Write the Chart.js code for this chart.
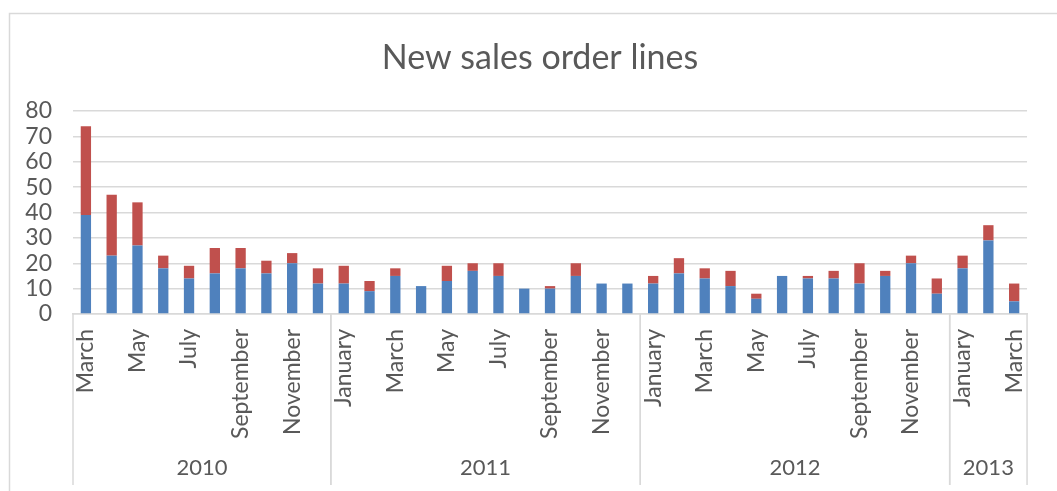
<!DOCTYPE html>
<html>
<head>
<meta charset="utf-8">
<script src="https://cdn.jsdelivr.net/npm/chart.js@4.4.1/dist/chart.umd.min.js"></script>
<style>
  html, body { margin: 0; padding: 0; background: #fff; overflow: hidden; }
  #wrap { position: relative; width: 1057px; height: 491px; }
</style>
</head>
<body>
<div id="wrap"><canvas id="chart" width="1057" height="491"></canvas></div>
<script>
// ── Data ─────────────────────────────────────────────────────────────────────
const months = [
  'March','April','May','June','July','August','September','October','November','December',
  'January','February','March','April','May','June','July','August','September','October','November','December',
  'January','February','March','April','May','June','July','August','September','October','November','December',
  'January','February','March'
];
const years     = ['2010', '2011', '2012', '2013'];
const yearSpans = [10, 12, 12, 3];

// blue (bottom) and red (top) parts of each bar
const blueVals = [39,23,27,18,14,16,18,16,20,12, 12,9,15,11,13,17,15,10,10,15,12,12, 12,16,14,11,6,15,14,14,12,15,20,8, 18,29,5];
const redVals  = [35,24,17,5,5,10,8,5,4,6, 7,4,3,0,6,3,5,0,1,5,0,0, 3,6,4,6,2,0,1,3,8,2,3,6, 5,6,7];

const yTicks = [0, 10, 20, 30, 40, 50, 60, 70, 80];

const FONT  = 'Lato, "Open Sans", sans-serif';
const GREY  = '#595959';
const LINE  = '#d9d9d9';

// ── Frame, title and year row ────────────────────────────────────────────────
const frame = {
  id: 'frame',
  beforeDraw(chart) {
    const c = chart.ctx;
    c.save();
    c.strokeStyle = LINE;
    c.lineWidth = 1.5;
    c.strokeRect(9.5, 13.5, 1200, 600);
    c.fillStyle = GREY;
    c.font = '34px ' + FONT;
    c.textAlign = 'center';
    c.textBaseline = 'alphabetic';
    c.fillText('New sales order lines', 540, 69);
    c.restore();
  },
  afterDraw(chart) {
    const x = chart.scales.x;
    const c = chart.ctx;
    const half = (x.getPixelForValue(1) - x.getPixelForValue(0)) / 2;
    const top = chart.chartArea.bottom;
    c.save();
    c.strokeStyle = LINE;
    c.lineWidth = 1.5;
    c.fillStyle = GREY;
    c.font = '22px ' + FONT;
    c.textAlign = 'center';
    c.textBaseline = 'middle';
    let start = 0;
    years.forEach((yr, i) => {
      const end = start + yearSpans[i] - 1;
      const l = x.getPixelForValue(start) - half;
      const r = x.getPixelForValue(end) + half;
      c.beginPath();
      c.moveTo(l, top); c.lineTo(l, 485);
      c.moveTo(r, top); c.lineTo(r, 485);
      c.stroke();
      c.fillText(yr, (l + r) / 2, 468);
      start = end + 1;
    });
    c.restore();
  }
};

new Chart(document.getElementById('chart'), {
  type: 'bar',
  data: {
    labels: months,
    datasets: [
      { label: 'Lines A', data: blueVals, backgroundColor: '#4F81BD', borderWidth: 0 },
      { label: 'Lines B', data: redVals,  backgroundColor: '#C0504D', borderWidth: 0 },
    ],
  },
  options: {
    responsive: false,
    animation: false,
    layout: { padding: { left: 0, right: 18, top: 111, bottom: 0 } },
    datasets: { bar: { barPercentage: 1, categoryPercentage: 0.4 } },
    plugins: {
      legend: { display: false },
      title: { display: false },
      tooltip: { enabled: false },
    },
    scales: {
      x: {
        stacked: true,
        grid: { display: false, drawTicks: false },
        border: { color: LINE, width: 1.5 },
        ticks: {
          autoSkip: false, minRotation: 90, maxRotation: 90, padding: 15,
          color: GREY, font: { size: 23, family: FONT },
          callback: (v, i) => (i % 2 === 0 ? months[i] : ''),
        },
        afterFit: s => { s.height = 177; },
      },
      y: {
        stacked: true,
        min: 0, max: 80,
        afterBuildTicks: s => { s.ticks = yTicks.map(v => ({ value: v })); },
        grid: { color: LINE, lineWidth: 1.5, drawTicks: false },
        border: { display: false },
        ticks: { autoSkip: false, padding: 21, color: GREY, font: { size: 23, family: FONT } },
        afterFit: s => { s.width = 73; },
      },
    },
  },
  plugins: [frame],
});
</script>
</body>
</html>
